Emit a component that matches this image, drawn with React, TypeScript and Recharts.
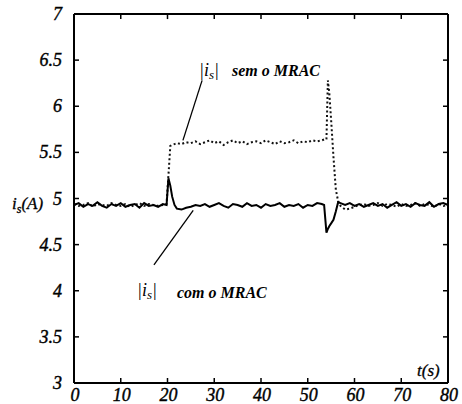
import { LineChart, Line, XAxis, YAxis, ReferenceLine, Customized } from "recharts";

const times = [
  0, 1, 2, 3, 4, 5, 6, 7, 8, 9, 10, 11, 12, 13, 14, 15, 16, 17, 18, 19,
  19.8, 20.2, 20.6, 21, 21.5, 22,
  23, 24, 25, 26, 27, 28, 29, 30, 31, 32, 33, 34, 35, 36, 37, 38, 39, 40, 41, 42, 43, 44, 45, 46, 47, 48, 49, 50, 51, 52, 53,
  53.5, 54, 54.3, 54.6, 55, 55.5, 56, 56.5, 57,
  58, 59, 60, 61, 62, 63, 64, 65, 66, 67, 68, 69, 70, 71, 72, 73, 74, 75, 76, 77, 78, 79, 80,
];

// |is| com o MRAC (solid)
const comMRAC = [
  4.93, 4.95, 4.91, 4.94, 4.92, 4.96, 4.92, 4.9, 4.94, 4.92, 4.95, 4.91, 4.93, 4.94, 4.9, 4.95, 4.92, 4.93, 4.91, 4.94,
  4.93, 5.22, 5.14, 5.02, 4.93, 4.89,
  4.88, 4.9, 4.91, 4.93, 4.92, 4.94, 4.91, 4.93, 4.95, 4.92, 4.9, 4.94, 4.93, 4.91, 4.95, 4.92, 4.93, 4.9, 4.94, 4.92, 4.93, 4.95, 4.91, 4.93, 4.92, 4.94, 4.9, 4.93, 4.92, 4.95, 4.94,
  4.93, 4.63, 4.67, 4.7, 4.73, 4.77, 4.86, 4.96, 4.95,
  4.93, 4.95, 4.92, 4.94, 4.91, 4.93, 4.95, 4.92, 4.94, 4.9, 4.93, 4.96, 4.92, 4.94, 4.91, 4.95, 4.93, 4.92, 4.96, 4.91, 4.94, 4.95, 4.93,
];

// |is| sem o MRAC (dotted)
const semMRAC = [
  4.94, 4.92, 4.93, 4.95, 4.91, 4.94, 4.93, 4.92, 4.95, 4.93, 4.92, 4.94, 4.91, 4.93, 4.95, 4.92, 4.94, 4.93, 4.92, 4.93,
  4.94, 5.25, 5.57, 5.58, 5.59, 5.6,
  5.59, 5.61, 5.6, 5.62, 5.59, 5.61, 5.63, 5.6, 5.62, 5.58, 5.61, 5.63, 5.6, 5.62, 5.59, 5.61, 5.62, 5.6, 5.63, 5.61, 5.59, 5.62, 5.6, 5.61, 5.63, 5.6, 5.62, 5.61, 5.63, 5.62, 5.63,
  5.64, 5.64, 6.28, 6.15, 5.85, 5.45, 5.1, 4.97, 4.92,
  4.88, 4.89, 4.91, 4.93, 4.94, 4.92, 4.93, 4.95, 4.92, 4.94, 4.93, 4.91, 4.94, 4.92, 4.93, 4.95, 4.92, 4.94, 4.93, 4.91, 4.94, 4.92, 4.93,
];

const xTicks = [0, 10, 20, 30, 40, 50, 60, 70, 80];
const yTicks = [3, 3.5, 4, 4.5, 5, 5.5, 6, 6.5, 7];

const data = times.map((t, i) => ({ t, com: comMRAC[i], sem: semMRAC[i] }));

const font = "'Liberation Serif', 'Times New Roman', serif";

function BottomTick({ x, y, payload }: any) {
  return (
    <g>
      <line x1={x} x2={x} y1={y} y2={y - 5} stroke="#000" strokeWidth={1.5} />
      <text x={x + 1} y={y + 18} textAnchor="middle" fontFamily={font} fontStyle="italic" fontSize={18} fill="#000" stroke="#000" strokeWidth={0.4}>
        {payload.value}
      </text>
    </g>
  );
}

function LeftTick({ x, y, payload }: any) {
  return (
    <g>
      <line x1={x} x2={x + 5} y1={y} y2={y} stroke="#000" strokeWidth={1.5} />
      <text x={x - 12} y={y + 6} textAnchor="end" fontFamily={font} fontStyle="italic" fontSize={18} fill="#000" stroke="#000" strokeWidth={0.4}>
        {String(payload.value)}
      </text>
    </g>
  );
}

function Labels() {
  const txt = { fontFamily: font, fontStyle: "italic" as const, fill: "#000" };
  return (
    <g>
      <text x={12} y={209} fontSize={17} stroke="#000" strokeWidth={0.3} {...txt}>
        i<tspan dy={4} fontSize={12}>s</tspan>
        <tspan dy={-4}>(A)</tspan>
      </text>
      <text x={417} y={376} fontSize={17} stroke="#000" strokeWidth={0.3} {...txt}>t(s)</text>
      <text x={199} y={76} fontSize={18} {...txt}>
        |i<tspan dy={3} fontSize={13}>s</tspan>
        <tspan dy={-3}>|</tspan>
      </text>
      <text x={232} y={76} fontSize={16} fontWeight="bold" {...txt}>sem o MRAC</text>
      <text x={137} y={296} fontSize={18} {...txt}>
        |i<tspan dy={3} fontSize={13}>s</tspan>
        <tspan dy={-3}>|</tspan>
      </text>
      <text x={177} y={298} fontSize={16} fontWeight="bold" {...txt}>com o MRAC</text>
    </g>
  );
}

export default function App() {
  return (
    <div style={{ position: "absolute", left: 0, top: 0, background: "#fff" }}>
      <LineChart width={462} height={404} data={data} margin={{ top: 14, right: 14, bottom: 0, left: 14 }}>
        <XAxis
          dataKey="t"
          type="number"
          domain={[0, 80]}
          ticks={xTicks}
          height={21}
          tickSize={0}
          tickMargin={0}
          tickLine={false}
          axisLine={{ stroke: "#000", strokeWidth: 2 }}
          tick={<BottomTick />}
          interval={0}
        />
        <YAxis
          type="number"
          domain={[3, 7]}
          ticks={yTicks}
          width={60}
          tickSize={0}
          tickMargin={0}
          tickLine={false}
          axisLine={{ stroke: "#000", strokeWidth: 2 }}
          tick={<LeftTick />}
          interval={0}
        />
        {/* top and right frame with inward ticks */}
        <ReferenceLine y={7} stroke="#000" strokeWidth={2} />
        <ReferenceLine x={80} stroke="#000" strokeWidth={2} />
        {xTicks.slice(1, -1).map((v) => (
          <ReferenceLine key={"tx" + v} segment={[{ x: v, y: 7 }, { x: v, y: 6.945 }]} stroke="#000" strokeWidth={1.5} />
        ))}
        {yTicks.slice(1, -1).map((v) => (
          <ReferenceLine key={"ty" + v} segment={[{ x: 80, y: v }, { x: 78.93, y: v }]} stroke="#000" strokeWidth={1.5} />
        ))}
        <ReferenceLine segment={[{ x: 27.4, y: 6.28 }, { x: 23.3, y: 5.63 }]} stroke="#000" strokeWidth={1.3} />
        <ReferenceLine segment={[{ x: 25.5, y: 4.87 }, { x: 17.1, y: 4.28 }]} stroke="#000" strokeWidth={1.3} />
        <Line
          dataKey="sem"
          stroke="#111"
          strokeWidth={2}
          strokeDasharray="2 2.5"
          dot={false}
          isAnimationActive={false}
        />
        <Line dataKey="com" stroke="#000" strokeWidth={2} dot={false} isAnimationActive={false} />
        <Customized component={Labels} />
      </LineChart>
    </div>
  );
}
